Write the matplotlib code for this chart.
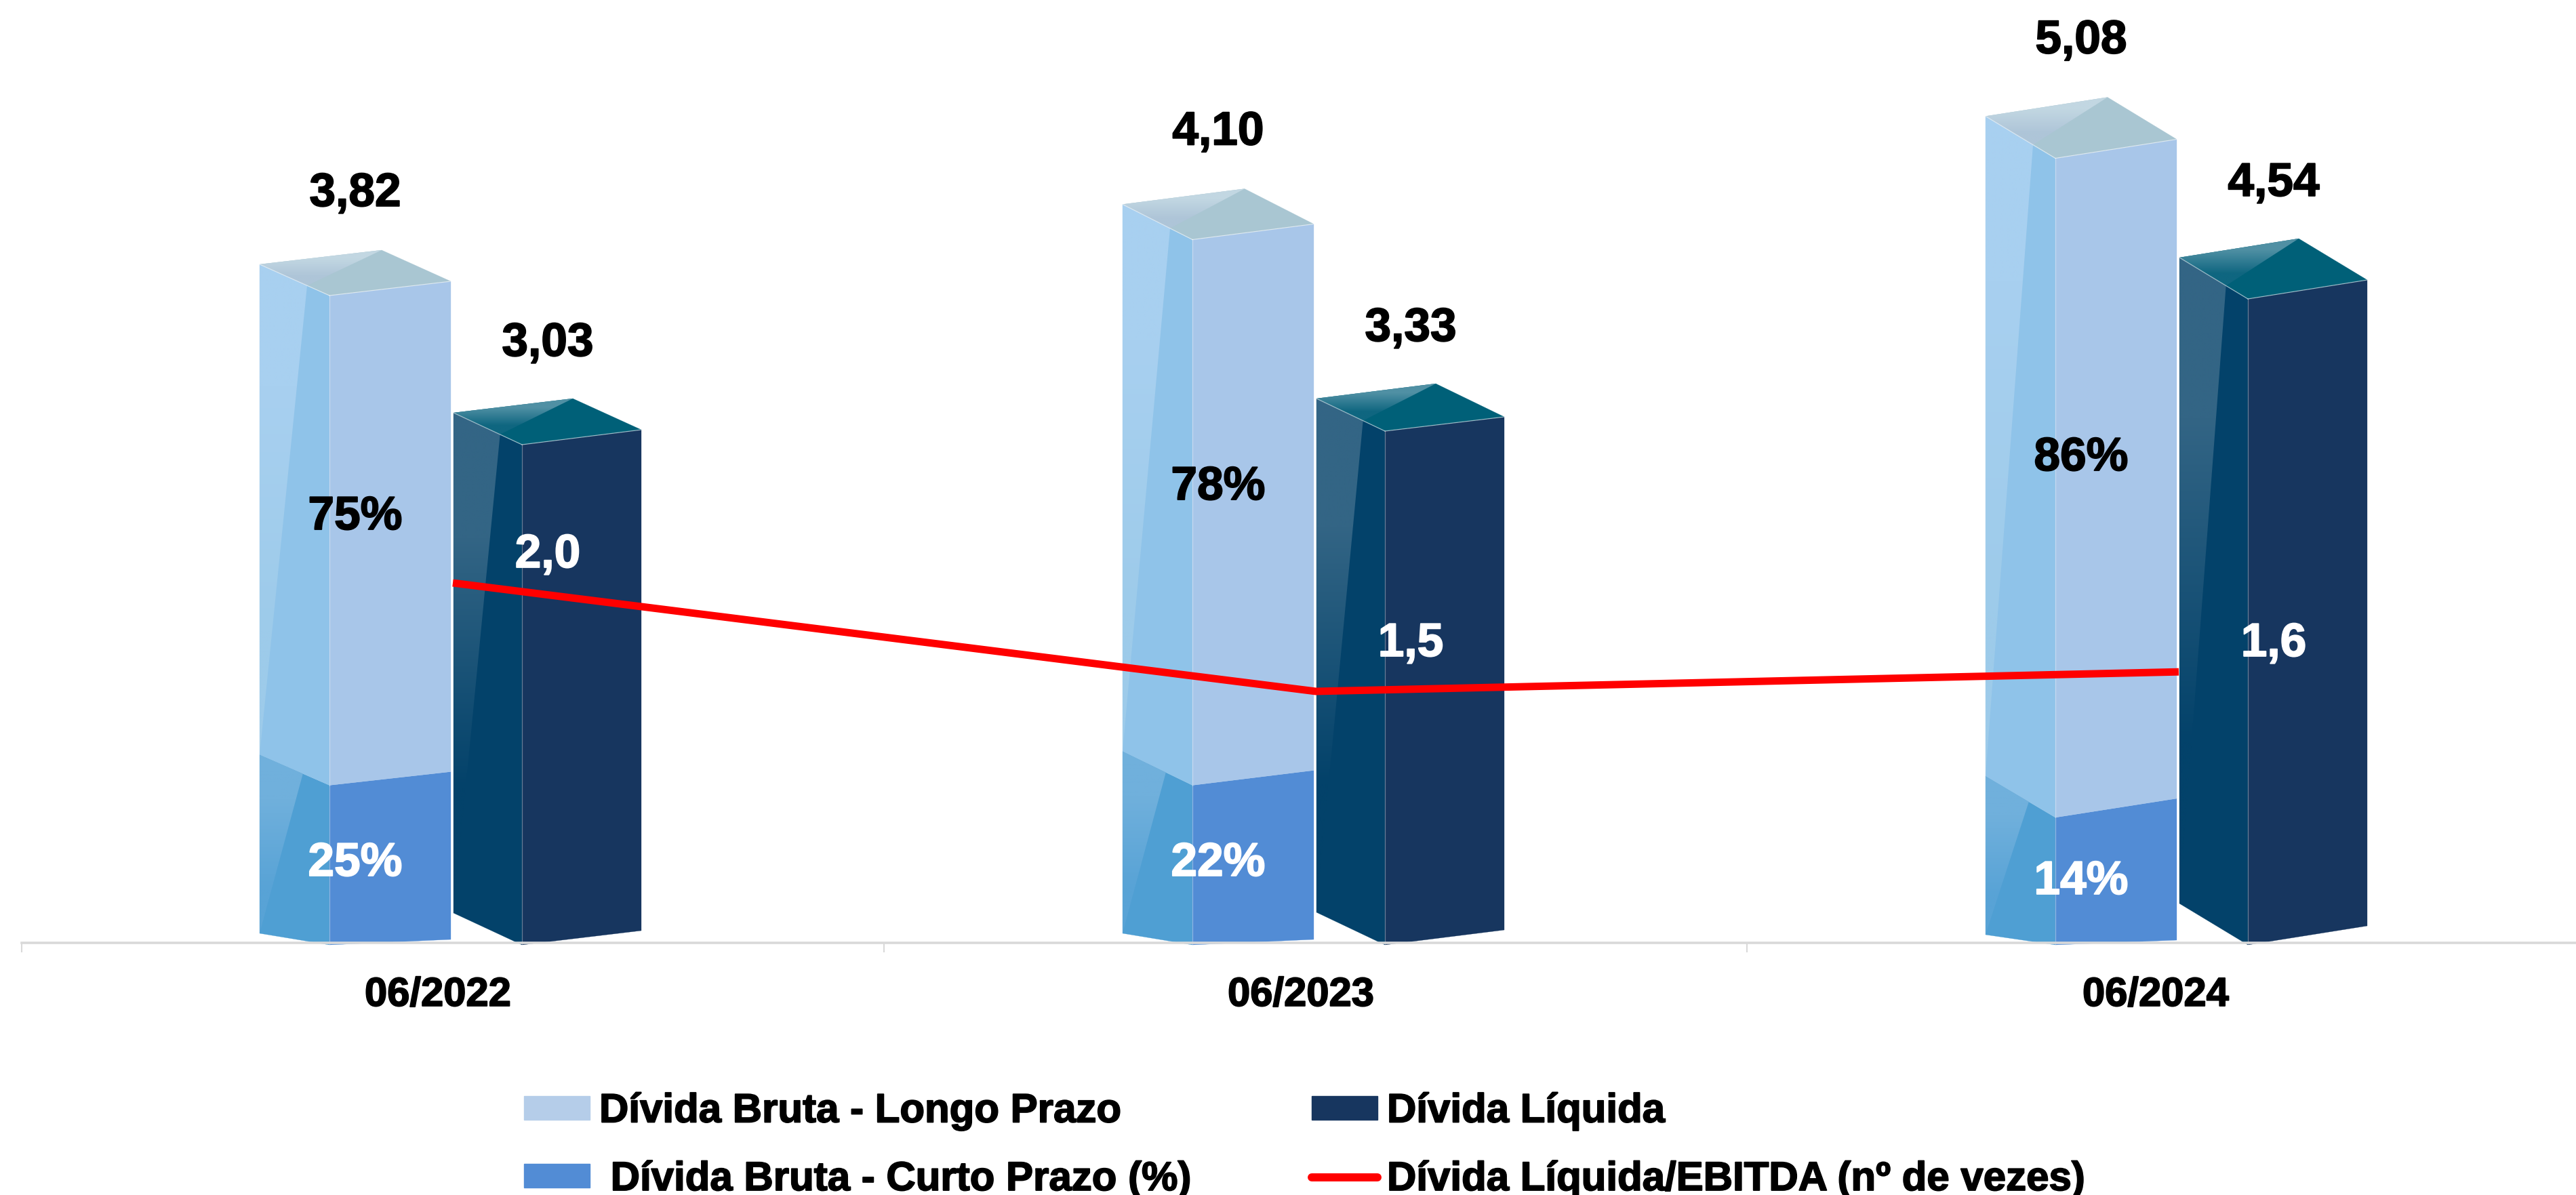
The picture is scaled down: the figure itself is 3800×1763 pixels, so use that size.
#plot.py
import numpy as np
import matplotlib
matplotlib.use('Agg')
import matplotlib.pyplot as plt
import matplotlib.patheffects as pe
from matplotlib.lines import Line2D
from matplotlib.patches import Patch, Polygon

plt.rcParams['font.family'] = ['Liberation Sans', 'DejaVu Sans']
plt.rcParams['font.weight'] = 'bold'

#########################
#         Data          #
#########################

periods = ['06/2022', '06/2023', '06/2024']
# printed labels
gross_labels = ['3,82', '4,10', '5,08']
net_labels = ['3,03', '3,33', '4,54']
long_labels = ['75%', '78%', '86%']
short_labels = ['25%', '22%', '14%']
ratio_labels = ['2,0', '1,5', '1,6']
# drawn heights (the bars are not proportional to their labels)
gross_height = [3.82, 4.15, 4.63]
short_height = [0.93, 0.93, 0.74]
net_height = [2.94, 3.02, 3.80]
ratio = [2.0, 1.5, 1.59]

legend_labels = ['Dívida Bruta - Longo Prazo', ' Dívida Bruta - Curto Prazo (%)',
                 'Dívida Líquida', 'Dívida Líquida/EBITDA (nº de vezes)']

#########################
#        Styles         #
#########################

W, H = 3800, 1763
PX_X = 1 / 1273   # one pixel in category units
PX_Y = 1 / 250    # one pixel in value units
X0_PX, Y0_PX = 668, 1391

# horizontal bar corners, pixels from the category centre
LIGHT_X = dict(left=-285, front=-182, right=-3, peak=-105)
DARK_X = dict(left=1, front=102, right=278, peak=177)
# perspective per period, pixels: top of bar (left, right, peak above the front corner)
LIGHT_TOP = [(46, 21, 67), (52, 23, 75), (62, 28, 90)]
SPLIT_TOP = [(45, 20), (50, 22), (61, 28)]
DARK_TOP = [(47, 22, 68), (48, 21, 70), (61, 28, 89)]
# height of bottom corners above the axis: (left, right)
LIGHT_BASE = [(14, 5), (14, 5), (12, 4)]
DARK_BASE = [(44, 18), (45, 19), (58, 25)]

LONG_STYLE = dict(front='#A8C6E9', side='#8FC3E9', hi=('#A8D0F0', '#9DCBEA'))
SHORT_STYLE = dict(front='#528CD5', side='#4F9FD3', hi=('#70B0DC', '#58A3D6'))
NET_STYLE = dict(front='#17365F', side='#03426A', hi=('#336585', '#03426A'))
LIGHT_LID = dict(main='#A9C6D2', hi=('#C2D7E2', '#AEC5D8'))
DARK_LID = dict(main='#006078', hi=('#5090A4', '#0F6680'))

# y of the labels inside the bars, pixels above the axis
LONG_LABEL_PX = [628, 672, 715]
SHORT_LABEL_PX = [117, 117, 90]
RATIO_LABEL_PX = [572, 441, 441]
# category label shift, pixels
TICK_SHIFT_PX = [-22, -22, -34]

#########################
#      Sub Programs     #
#########################


def gradient_poly(ax, pts, colors, z):
    pts = np.array(pts)
    rgb = np.array([matplotlib.colors.to_rgb(c) for c in colors])[:, None, :]
    im = ax.imshow(rgb, extent=(pts[:, 0].min(), pts[:, 0].max(), pts[:, 1].min(), pts[:, 1].max()),
                   aspect='auto', origin='upper', interpolation='bilinear', zorder=z)
    im.set_clip_path(Polygon(pts, transform=ax.transData))


def flat_poly(ax, pts, color, z=2):
    ax.add_patch(Polygon(pts, closed=True, facecolor=color, edgecolor=color, linewidth=0.2, zorder=z))


def seam(ax, a, b, alpha=0.55):
    ax.plot([a[0], b[0]], [a[1], b[1]], color='white', lw=0.9, alpha=alpha, zorder=4)


def block(ax, xs, bottom, top, style, frac):
    # bottom/top are (left, front, right) heights of the block corners
    l_b, f_b, r_b = [(xs['left'], bottom[0]), (xs['front'], bottom[1]), (xs['right'], bottom[2])]
    l_t, f_t, r_t = [(xs['left'], top[0]), (xs['front'], top[1]), (xs['right'], top[2])]
    flat_poly(ax, [l_b, f_b, f_t, l_t], style['side'])
    flat_poly(ax, [f_b, r_b, r_t, f_t], style['front'])
    edge = (l_t[0] + frac * (f_t[0] - l_t[0]), l_t[1] + frac * (f_t[1] - l_t[1]))
    gradient_poly(ax, [l_t, edge, l_b], style['hi'], 3)
    seam(ax, f_b, f_t, 0.35)
    return edge


def lid(ax, xs, top, peak, style, edge):
    l_t, f_t, r_t = [(xs['left'], top[0]), (xs['front'], top[1]), (xs['right'], top[2])]
    p = (xs['peak'], peak)
    flat_poly(ax, [l_t, f_t, r_t, p], style['main'])
    gradient_poly(ax, [l_t, p, edge], style['hi'], 3)
    seam(ax, l_t, f_t)
    seam(ax, f_t, r_t)


def corners(k, px):
    return {name: k + v * PX_X for name, v in px.items()}


def thicken(text, width=1.3):
    # the reference glyphs are heavier than plain bold
    text.set_path_effects([pe.withStroke(linewidth=width, foreground=text.get_color())])


#########################
#       Main Plot       #
#########################

fig = plt.figure(figsize=(W / 100, H / 100), dpi=100)
ax = fig.add_axes([0, 0, 1, 1])
label_kw = dict(fontsize=50, ha='center', va='center', fontweight='bold', zorder=6)

for k in range(len(periods)):
    # light stacked bar
    xs = corners(k, LIGHT_X)
    tl, tr, tp = [v * PX_Y for v in LIGHT_TOP[k]]
    sl, sr = [v * PX_Y for v in SPLIT_TOP[k]]
    bl, br = [v * PX_Y for v in LIGHT_BASE[k]]
    g, s = gross_height[k], short_height[k]
    block(ax, xs, (bl, -3 * PX_Y, br), (s + sl, s, s + sr), SHORT_STYLE, 0.62)
    edge = block(ax, xs, (s + sl, s, s + sr), (g + tl, g, g + tr), LONG_STYLE, 0.68)
    lid(ax, xs, (g + tl, g, g + tr), g + tp, LIGHT_LID, edge)
    ax.text(k - 144 * PX_X, g + tp + 83 * PX_Y, gross_labels[k], color='black', **label_kw)
    ax.text(k - 144 * PX_X, LONG_LABEL_PX[k] * PX_Y, long_labels[k], color='black', **label_kw)
    ax.text(k - 144 * PX_X, SHORT_LABEL_PX[k] * PX_Y, short_labels[k], color='white', **label_kw)

    # dark bar
    xs = corners(k, DARK_X)
    tl, tr, tp = [v * PX_Y for v in DARK_TOP[k]]
    bl, br = [v * PX_Y for v in DARK_BASE[k]]
    n = net_height[k]
    edge = block(ax, xs, (bl, -3 * PX_Y, br), (n + tl, n, n + tr), NET_STYLE, 0.68)
    lid(ax, xs, (n + tl, n, n + tr), n + tp, DARK_LID, edge)
    ax.text(k + 140 * PX_X, n + tp + 81 * PX_Y, net_labels[k], color='black', **label_kw)
    ax.text(k + 140 * PX_X, RATIO_LABEL_PX[k] * PX_Y, ratio_labels[k], color='white', **label_kw)

x_min, x_max = -X0_PX * PX_X, (W - X0_PX) * PX_X
ax.set_xlim(x_min, x_max)
ax.set_ylim((Y0_PX - H) * PX_Y, Y0_PX * PX_Y)

for side in ['top', 'left', 'right']:
    ax.spines[side].set_visible(False)
ax.spines['bottom'].set_position(('data', 0))
ax.spines['bottom'].set_color('#D9D9D9')
ax.spines['bottom'].set_linewidth(2.6)
ax.spines['bottom'].set_bounds(-0.5, x_max)
ax.spines['bottom'].set_zorder(5)
ax.set_yticks([])
ax.set_xticks(np.arange(len(periods)) + np.array(TICK_SHIFT_PX) * PX_X, periods, fontsize=43, fontweight='bold')
ax.set_xticks([-0.5, 0.5, 1.5], minor=True)
ax.tick_params(axis='x', which='major', length=0, pad=36)
ax.tick_params(axis='x', which='minor', length=10, width=1.5, color='#D9D9D9')

# ratio line on its own scale
ax2 = ax.twinx()
ax2.set_ylim(-263 / 320, 1500 / 320)
ax2.set_yticks([])
ax2.axis('off')
ax2.plot(range(len(periods)), ratio, color='#FF0000', lw=7.9, solid_capstyle='butt', solid_joinstyle='miter', zorder=5)

handles = [Patch(color='#B5CDE9'), Patch(color='#528CD5'), Patch(color='#17365F'),
           Line2D([0], [0], color='#FF0000', lw=8.6, solid_capstyle='round')]
leg = ax.legend(handles, legend_labels, ncol=2, frameon=False, loc='lower left',
                bbox_to_anchor=(773 / W, -5 / H), borderpad=0, borderaxespad=0,
                prop=dict(family='Liberation Sans', weight='bold', size=43.2),
                handlelength=1.62, handleheight=0.52, handletextpad=0.23,
                labelspacing=0.75, columnspacing=2.95)

for t in ax.texts + leg.get_texts() + ax.get_xticklabels():
    thicken(t)

fig.savefig('out.png', dpi=100)
